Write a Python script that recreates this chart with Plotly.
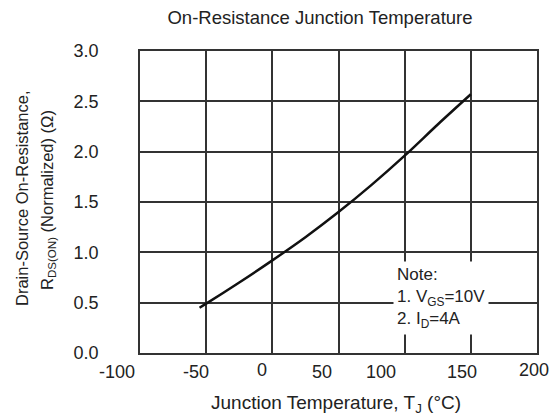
import plotly.graph_objects as go

# ---- data ----
temp_c = [-55, -50, -25, 0, 25, 50, 75, 100, 125, 150]
r_norm = [0.45, 0.49, 0.70, 0.92, 1.15, 1.40, 1.67, 1.96, 2.27, 2.57]

x_ticks = [-100, -50, 0, 50, 100, 150, 200]
x_tick_text = ["-100", "-50", "0", "50", "100", "150", "200"]
y_ticks = [0.0, 0.5, 1.0, 1.5, 2.0, 2.5, 3.0]
y_tick_text = ["0.0", "0.5", "1.0", "1.5", "2.0", "2.5", "3.0"]

title_text = "On-Resistance Junction Temperature"
x_title = "Junction Temperature, T<sub>J</sub> (°C)"
y_title_1 = "Drain-Source On-Resistance,"
y_title_2 = "R<sub>DS(ON)</sub> (Normalized) (Ω)"
note_text = "Note:<br>1. V<sub>GS</sub>=10V<br>2. I<sub>D</sub>=4A"

# label offsets (pixels) as drawn in the reference (labels are not centred on gridlines)
x_label_xshift = [-23, -10, -10, -17, -24, -9, -3]
x_label_yshift = [-19, -19, -17, -19, -19, -19, -17]

FONT = "Liberation Sans, Arial, sans-serif"
INK = "#222222"
GRID = "#333333"

W, H = 556, 419
ML, MR, MT, MB = 140, 19, 51, 66
PW, PH = W - ML - MR, H - MT - MB


def px_to_paper(px, py):
    return (px - ML) / PW, (H - MB - py) / PH


fig = go.Figure()
fig.add_trace(go.Scatter(
    x=temp_c, y=r_norm, mode="lines",
    line=dict(color="#111111", width=2.5, shape="spline", smoothing=0.8),
    hoverinfo="skip", showlegend=False,
))

fig.update_layout(
    width=W, height=H,
    margin=dict(l=ML, r=MR, t=MT, b=MB),
    paper_bgcolor="white", plot_bgcolor="white",
    font=dict(family=FONT, color=INK),
    showlegend=False,
    title=dict(text=title_text, x=320 / W, xanchor="center", xref="container",
               y=1 - 18 / H, yanchor="middle", yref="container",
               font=dict(size=18.5, color=INK, family=FONT)),
    xaxis=dict(range=[-100, 200], tickvals=x_ticks, showticklabels=False,
               showgrid=True, gridcolor=GRID, gridwidth=1.5,
               showline=True, linecolor=GRID, linewidth=1.5, mirror=True,
               zeroline=False, ticks="", fixedrange=True),
    yaxis=dict(range=[0, 3], tickvals=y_ticks, ticktext=y_tick_text,
               tickfont=dict(size=18, color=INK, family=FONT),
               ticklabelstandoff=36,
               showgrid=True, gridcolor=GRID, gridwidth=1.5,
               showline=True, linecolor=GRID, linewidth=1.5, mirror=True,
               zeroline=False, ticks="", fixedrange=True),
)

annotations = []
for v, t, dx, dy in zip(x_ticks, x_tick_text, x_label_xshift, x_label_yshift):
    annotations.append(dict(x=v, y=0, xref="x", yref="paper", text=t, showarrow=False,
                            xanchor="center", yanchor="middle", xshift=dx, yshift=dy,
                            font=dict(size=18, color=INK, family=FONT)))

xt_x, xt_y = px_to_paper(336, 404)
annotations.append(dict(x=xt_x, y=xt_y, xref="paper", yref="paper",
                        text=x_title, showarrow=False, xanchor="center", yanchor="middle",
                        font=dict(size=19, color=INK, family=FONT)))
y1_x, y1_y = px_to_paper(22, 198)
annotations.append(dict(x=y1_x, y=y1_y, xref="paper", yref="paper", text=y_title_1,
                        showarrow=False, textangle=-90, xanchor="center", yanchor="middle",
                        font=dict(size=16.5, color=INK, family=FONT)))
y2_x, y2_y = px_to_paper(48, 200)
annotations.append(dict(x=y2_x, y=y2_y, xref="paper", yref="paper", text=y_title_2,
                        showarrow=False, textangle=-90, xanchor="center", yanchor="middle",
                        font=dict(size=16.5, color=INK, family=FONT)))
n_x, n_y = px_to_paper(393, 298)
annotations.append(dict(x=n_x, y=n_y, xref="paper", yref="paper", text=note_text,
                        showarrow=False, align="left", xanchor="left", yanchor="middle",
                        bgcolor="white", borderpad=3,
                        font=dict(size=17, color=INK, family=FONT)))

fig.update_layout(annotations=annotations)
fig.write_html("out.html")
